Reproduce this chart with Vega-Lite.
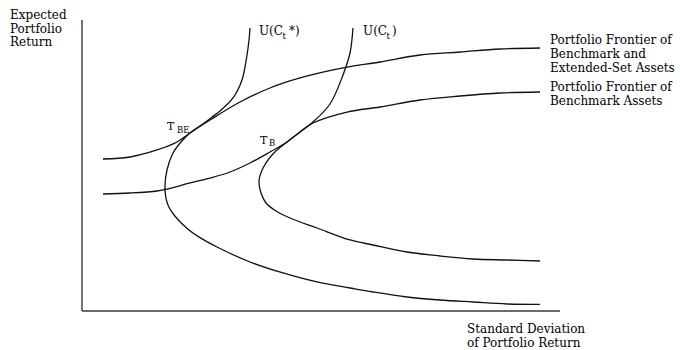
{
  "$schema": "https://vega.github.io/schema/vega-lite/v6.json",
  "width": 680,
  "height": 350,
  "padding": 0,
  "autosize": {"type": "none"},
  "background": "white",
  "config": {"view": {"stroke": null}},
  "datasets": {
    "axes": [
      {"sd": 0, "ret": 0, "sd2": 0, "ret2": 100},
      {"sd": 0, "ret": 0, "sd2": 100, "ret2": 0}
    ],
    "curves": [
      {"curve": "frontier_extended", "order": 1, "sd": 95.82, "ret": 90.38},
      {"curve": "frontier_extended", "order": 2, "sd": 87.45, "ret": 90.03},
      {"curve": "frontier_extended", "order": 3, "sd": 79.08, "ret": 89.0},
      {"curve": "frontier_extended", "order": 4, "sd": 70.71, "ret": 87.97},
      {"curve": "frontier_extended", "order": 5, "sd": 62.34, "ret": 85.57},
      {"curve": "frontier_extended", "order": 6, "sd": 54.6, "ret": 83.51},
      {"curve": "frontier_extended", "order": 7, "sd": 45.61, "ret": 80.07},
      {"curve": "frontier_extended", "order": 8, "sd": 39.33, "ret": 76.63},
      {"curve": "frontier_extended", "order": 9, "sd": 33.05, "ret": 71.82},
      {"curve": "frontier_extended", "order": 10, "sd": 26.78, "ret": 65.64},
      {"curve": "frontier_extended", "order": 11, "sd": 22.59, "ret": 61.17},
      {"curve": "frontier_extended", "order": 12, "sd": 20.71, "ret": 58.08},
      {"curve": "frontier_extended", "order": 13, "sd": 19.04, "ret": 54.3},
      {"curve": "frontier_extended", "order": 14, "sd": 17.78, "ret": 48.45},
      {"curve": "frontier_extended", "order": 15, "sd": 17.36, "ret": 42.27},
      {"curve": "frontier_extended", "order": 16, "sd": 17.9, "ret": 36.8},
      {"curve": "frontier_extended", "order": 17, "sd": 19.6, "ret": 32.3},
      {"curve": "frontier_extended", "order": 18, "sd": 22.18, "ret": 28.1},
      {"curve": "frontier_extended", "order": 19, "sd": 24.69, "ret": 25.2},
      {"curve": "frontier_extended", "order": 20, "sd": 28.24, "ret": 21.99},
      {"curve": "frontier_extended", "order": 21, "sd": 35.15, "ret": 16.84},
      {"curve": "frontier_extended", "order": 22, "sd": 42.05, "ret": 13.06},
      {"curve": "frontier_extended", "order": 23, "sd": 49.16, "ret": 9.97},
      {"curve": "frontier_extended", "order": 24, "sd": 56.07, "ret": 7.9},
      {"curve": "frontier_extended", "order": 25, "sd": 60.88, "ret": 6.53},
      {"curve": "frontier_extended", "order": 26, "sd": 67.99, "ret": 4.81},
      {"curve": "frontier_extended", "order": 27, "sd": 74.9, "ret": 3.78},
      {"curve": "frontier_extended", "order": 28, "sd": 81.8, "ret": 3.09},
      {"curve": "frontier_extended", "order": 29, "sd": 88.91, "ret": 2.41},
      {"curve": "frontier_extended", "order": 30, "sd": 95.82, "ret": 2.3},

      {"curve": "frontier_benchmark", "order": 1, "sd": 95.82, "ret": 75.26},
      {"curve": "frontier_benchmark", "order": 2, "sd": 87.45, "ret": 74.91},
      {"curve": "frontier_benchmark", "order": 3, "sd": 79.08, "ret": 73.88},
      {"curve": "frontier_benchmark", "order": 4, "sd": 70.71, "ret": 72.51},
      {"curve": "frontier_benchmark", "order": 5, "sd": 62.34, "ret": 70.1},
      {"curve": "frontier_benchmark", "order": 6, "sd": 55.44, "ret": 68.38},
      {"curve": "frontier_benchmark", "order": 7, "sd": 48.33, "ret": 64.6},
      {"curve": "frontier_benchmark", "order": 8, "sd": 45.61, "ret": 61.51},
      {"curve": "frontier_benchmark", "order": 9, "sd": 42.89, "ret": 58.08},
      {"curve": "frontier_benchmark", "order": 10, "sd": 39.75, "ret": 53.61},
      {"curve": "frontier_benchmark", "order": 11, "sd": 37.87, "ret": 49.14},
      {"curve": "frontier_benchmark", "order": 12, "sd": 37.03, "ret": 44.67},
      {"curve": "frontier_benchmark", "order": 13, "sd": 37.45, "ret": 40.55},
      {"curve": "frontier_benchmark", "order": 14, "sd": 38.49, "ret": 37.11},
      {"curve": "frontier_benchmark", "order": 15, "sd": 40.59, "ret": 34.36},
      {"curve": "frontier_benchmark", "order": 16, "sd": 43.51, "ret": 31.96},
      {"curve": "frontier_benchmark", "order": 17, "sd": 49.16, "ret": 28.52},
      {"curve": "frontier_benchmark", "order": 18, "sd": 56.07, "ret": 24.4},
      {"curve": "frontier_benchmark", "order": 19, "sd": 60.88, "ret": 22.68},
      {"curve": "frontier_benchmark", "order": 20, "sd": 67.99, "ret": 20.27},
      {"curve": "frontier_benchmark", "order": 21, "sd": 74.9, "ret": 18.9},
      {"curve": "frontier_benchmark", "order": 22, "sd": 81.8, "ret": 17.87},
      {"curve": "frontier_benchmark", "order": 23, "sd": 88.91, "ret": 17.53},
      {"curve": "frontier_benchmark", "order": 24, "sd": 95.82, "ret": 17.18},

      {"curve": "utility_star", "order": 1, "sd": 4.39, "ret": 52.23},
      {"curve": "utility_star", "order": 2, "sd": 10.04, "ret": 52.92},
      {"curve": "utility_star", "order": 3, "sd": 15.69, "ret": 55.33},
      {"curve": "utility_star", "order": 4, "sd": 19.87, "ret": 58.08},
      {"curve": "utility_star", "order": 5, "sd": 22.59, "ret": 61.17},
      {"curve": "utility_star", "order": 6, "sd": 25.31, "ret": 64.26},
      {"curve": "utility_star", "order": 7, "sd": 27.2, "ret": 66.67},
      {"curve": "utility_star", "order": 8, "sd": 28.87, "ret": 68.73},
      {"curve": "utility_star", "order": 9, "sd": 31.59, "ret": 73.2},
      {"curve": "utility_star", "order": 10, "sd": 33.47, "ret": 79.38},
      {"curve": "utility_star", "order": 11, "sd": 34.52, "ret": 87.97},
      {"curve": "utility_star", "order": 12, "sd": 34.94, "ret": 93.13},
      {"curve": "utility_star", "order": 13, "sd": 35.15, "ret": 97.25},

      {"curve": "utility", "order": 1, "sd": 4.39, "ret": 40.21},
      {"curve": "utility", "order": 2, "sd": 10.04, "ret": 40.55},
      {"curve": "utility", "order": 3, "sd": 15.69, "ret": 41.24},
      {"curve": "utility", "order": 4, "sd": 17.78, "ret": 41.92},
      {"curve": "utility", "order": 5, "sd": 22.59, "ret": 43.99},
      {"curve": "utility", "order": 6, "sd": 26.78, "ret": 45.7},
      {"curve": "utility", "order": 7, "sd": 30.96, "ret": 47.77},
      {"curve": "utility", "order": 8, "sd": 35.15, "ret": 50.86},
      {"curve": "utility", "order": 9, "sd": 39.33, "ret": 54.64},
      {"curve": "utility", "order": 10, "sd": 42.89, "ret": 58.08},
      {"curve": "utility", "order": 11, "sd": 45.61, "ret": 61.51},
      {"curve": "utility", "order": 12, "sd": 48.33, "ret": 64.95},
      {"curve": "utility", "order": 13, "sd": 51.88, "ret": 71.13},
      {"curve": "utility", "order": 14, "sd": 54.6, "ret": 81.1},
      {"curve": "utility", "order": 15, "sd": 56.07, "ret": 88.66},
      {"curve": "utility", "order": 16, "sd": 56.69, "ret": 97.25}
    ],
    "labels": [
      {"label": "Expected", "sd": -15.06, "ret": 100.34},
      {"label": "Portfolio", "sd": -15.06, "ret": 95.6},
      {"label": "Return", "sd": -15.06, "ret": 91.07},
      {"label": "Standard Deviation", "sd": 80.54, "ret": -7.56},
      {"label": "of Portfolio Return", "sd": 80.54, "ret": -12.37},
      {"label": "Portfolio Frontier of", "sd": 97.91, "ret": 91.92},
      {"label": "Benchmark and", "sd": 97.91, "ret": 87.11},
      {"label": "Extended-Set Assets", "sd": 97.91, "ret": 82.3},
      {"label": "Portfolio Frontier of", "sd": 97.91, "ret": 75.77},
      {"label": "Benchmark Assets", "sd": 97.91, "ret": 70.96},
      {"label": "U(C", "sd": 37.03, "ret": 94.85},
      {"label": "*)", "sd": 43.3, "ret": 94.85},
      {"label": "U(C", "sd": 58.79, "ret": 94.85},
      {"label": ")", "sd": 64.85, "ret": 94.85}
    ],
    "points": [
      {"label": "T", "sd": 17.78, "ret": 62.2},
      {"label": "T", "sd": 37.24, "ret": 57.56}
    ],
    "subscripts": [
      {"label": "t", "sd": 41.95, "ret": 93.64},
      {"label": "t", "sd": 63.72, "ret": 93.64},
      {"label": "BE", "sd": 19.87, "ret": 61.34},
      {"label": "B", "sd": 39.12, "ret": 56.7}
    ]
  },
  "layer": [
    {
      "data": {"name": "axes"},
      "mark": {"type": "rule", "color": "#3a3a3a", "strokeWidth": 1.4},
      "encoding": {
        "x": {"field": "sd", "type": "quantitative", "axis": null, "scale": {"domain": [-17.155, 125.105], "nice": false, "zero": false}},
        "y": {"field": "ret", "type": "quantitative", "axis": null, "scale": {"domain": [-13.402, 106.873], "nice": false, "zero": false}},
        "x2": {"field": "sd2"},
        "y2": {"field": "ret2"}
      }
    },
    {
      "data": {"name": "curves"},
      "mark": {"type": "line", "color": "#111111", "strokeWidth": 1.3, "interpolate": "catmull-rom"},
      "encoding": {
        "x": {"field": "sd", "type": "quantitative", "axis": null, "scale": {"domain": [-17.155, 125.105], "nice": false, "zero": false}},
        "y": {"field": "ret", "type": "quantitative", "axis": null, "scale": {"domain": [-13.402, 106.873], "nice": false, "zero": false}},
        "detail": {"field": "curve", "type": "nominal"},
        "order": {"field": "order", "type": "quantitative"}
      }
    },
    {
      "data": {"name": "labels"},
      "mark": {"type": "text", "align": "left", "baseline": "alphabetic", "font": "DejaVu Serif", "fontSize": 12, "color": "#000000"},
      "encoding": {
        "x": {"field": "sd", "type": "quantitative", "axis": null, "scale": {"domain": [-17.155, 125.105], "nice": false, "zero": false}},
        "y": {"field": "ret", "type": "quantitative", "axis": null, "scale": {"domain": [-13.402, 106.873], "nice": false, "zero": false}},
        "text": {"field": "label", "type": "nominal"}
      }
    },
    {
      "data": {"name": "points"},
      "mark": {"type": "text", "align": "left", "baseline": "alphabetic", "font": "DejaVu Serif", "fontSize": 11, "color": "#000000"},
      "encoding": {
        "x": {"field": "sd", "type": "quantitative", "axis": null, "scale": {"domain": [-17.155, 125.105], "nice": false, "zero": false}},
        "y": {"field": "ret", "type": "quantitative", "axis": null, "scale": {"domain": [-13.402, 106.873], "nice": false, "zero": false}},
        "text": {"field": "label", "type": "nominal"}
      }
    },
    {
      "data": {"name": "subscripts"},
      "mark": {"type": "text", "align": "left", "baseline": "alphabetic", "font": "DejaVu Serif", "fontSize": 8.5, "color": "#000000"},
      "encoding": {
        "x": {"field": "sd", "type": "quantitative", "axis": null, "scale": {"domain": [-17.155, 125.105], "nice": false, "zero": false}},
        "y": {"field": "ret", "type": "quantitative", "axis": null, "scale": {"domain": [-13.402, 106.873], "nice": false, "zero": false}},
        "text": {"field": "label", "type": "nominal"}
      }
    }
  ]
}
